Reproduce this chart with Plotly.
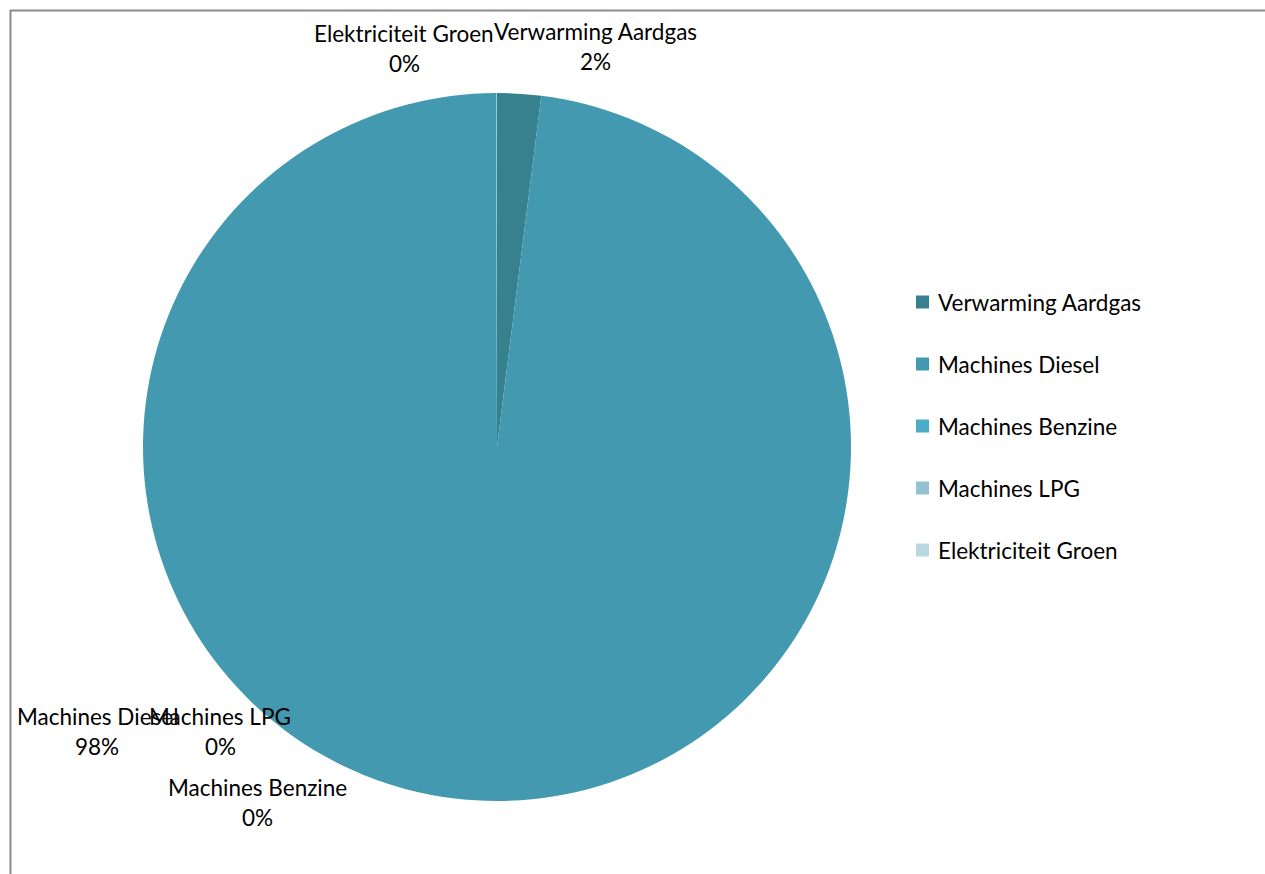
import plotly.graph_objects as go

labels = ["Verwarming Aardgas", "Machines Diesel", "Machines Benzine", "Machines LPG", "Elektriciteit Groen"]
values = [2.0, 98.0, 0.02, 0.01, 0.005]
colors = ["#37818F", "#4399B0", "#4BACC6", "#93C3D2", "#B8D7E1"]

W, H = 1265, 874
FONT = "Lato"
FS = 22.5

def px(x):
    return x / W

def py(y):
    return 1 - y / H

fig = go.Figure(go.Pie(
    labels=labels, values=values, sort=False, direction="clockwise", rotation=0,
    marker=dict(colors=colors, line=dict(width=0)),
    textinfo="none", hoverinfo="label+percent", showlegend=False,
    domain=dict(x=[px(143), px(851)], y=[py(801), py(93)]),
))

total = sum(values)
label_pos = {
    "Verwarming Aardgas": (595, 31),
    "Machines Diesel": (97, 716),
    "Machines Benzine": (257, 787),
    "Machines LPG": (220, 716),
    "Elektriciteit Groen": (404, 33),
}
annotations = []
for lab, val in zip(labels, values):
    cx, cy = label_pos[lab]
    pct = round(val / total * 100)
    annotations.append(dict(x=px(cx), y=py(cy), xref="paper", yref="paper", text=lab,
                            showarrow=False, xanchor="center", yanchor="middle",
                            font=dict(family=FONT, size=FS, color="#000000")))
    annotations.append(dict(x=px(cx), y=py(cy + 30), xref="paper", yref="paper", text=f"{pct}%",
                            showarrow=False, xanchor="center", yanchor="middle",
                            font=dict(family=FONT, size=FS, color="#000000")))

shapes = [
    dict(type="line", xref="paper", yref="paper", x0=px(10), x1=1, y0=py(10.5), y1=py(10.5),
         line=dict(color="#8C8C8C", width=2)),
    dict(type="line", xref="paper", yref="paper", x0=px(10.5), x1=px(10.5), y0=py(10), y1=0,
         line=dict(color="#8C8C8C", width=2)),
]

for i, (lab, col) in enumerate(zip(labels, colors)):
    yc = 302 + i * 62
    shapes.append(dict(type="rect", xref="paper", yref="paper",
                       x0=px(916), x1=px(929), y0=py(yc + 6.5), y1=py(yc - 6.5),
                       fillcolor=col, line=dict(width=0)))
    annotations.append(dict(x=px(936), y=py(yc), xref="paper", yref="paper", text=lab,
                            showarrow=False, xanchor="left", yanchor="middle",
                            font=dict(family=FONT, size=FS, color="#000000")))

fig.update_layout(
    width=W, height=H, margin=dict(l=0, r=0, t=0, b=0),
    paper_bgcolor="white", plot_bgcolor="white",
    annotations=annotations, shapes=shapes,
)

fig.write_html("out.html", config={"displayModeBar": False},
               post_script="document.body.style.margin='0px';document.body.style.overflow='hidden';")
